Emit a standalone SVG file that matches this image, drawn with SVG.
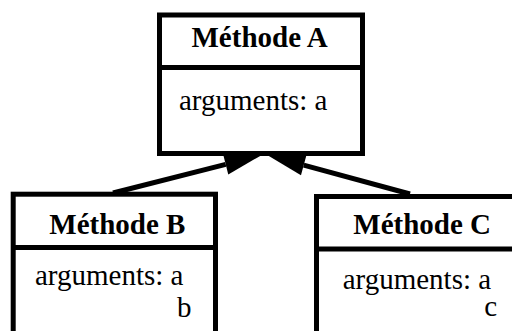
<svg xmlns="http://www.w3.org/2000/svg" width="512" height="331" viewBox="0 0 512 331">
<style>
.box{fill:#fff;stroke:#000;stroke-width:5}
.div{stroke:#000;stroke-width:5}
.t{font-family:'Liberation Serif','Times New Roman',serif;font-size:29px;fill:#000}
.b{font-weight:bold}
.conn{stroke:#000;stroke-width:5;fill:none}
</style>
<defs>
<marker id="ah" markerUnits="userSpaceOnUse" markerWidth="40" markerHeight="24" refX="0" refY="11" orient="auto" overflow="visible">
<path d="M0,0.6 L37,11 L0,21.4 Z" fill="#000"/>
</marker>
</defs>
<rect width="512" height="331" fill="#fff"/>
<g id="connectors">
<line class="conn" x1="113" y1="193" x2="225.7" y2="164.3" marker-end="url(#ah)"/>
<line class="conn" x1="410" y1="194" x2="303.7" y2="165.2" marker-end="url(#ah)"/>
</g>
<g id="methodeA">
<rect class="box" x="159.5" y="15" width="203" height="138.5"/>
<line class="div" x1="159.5" y1="67.5" x2="362.5" y2="67.5"/>
<text class="t b" x="191.5" y="46.5">Méthode A</text>
<text class="t" x="179" y="110">arguments: a</text>
</g>
<g id="methodeB">
<rect class="box" x="13.2" y="194.2" width="202.3" height="150"/>
<line class="div" x1="13.2" y1="247.5" x2="215.5" y2="247.5"/>
<text class="t b" x="49.3" y="234">Méthode B</text>
<text class="t" x="35" y="285">arguments: a</text>
<text class="t" x="177" y="317">b</text>
</g>
<g id="methodeC">
<rect class="box" x="316.5" y="196.5" width="220" height="150"/>
<line class="div" x1="316.5" y1="249" x2="536.5" y2="249"/>
<text class="t b" x="353.3" y="234">Méthode C</text>
<text class="t" x="342.7" y="289.3">arguments: a</text>
<text class="t" x="484.3" y="316">c</text>
</g>
</svg>
